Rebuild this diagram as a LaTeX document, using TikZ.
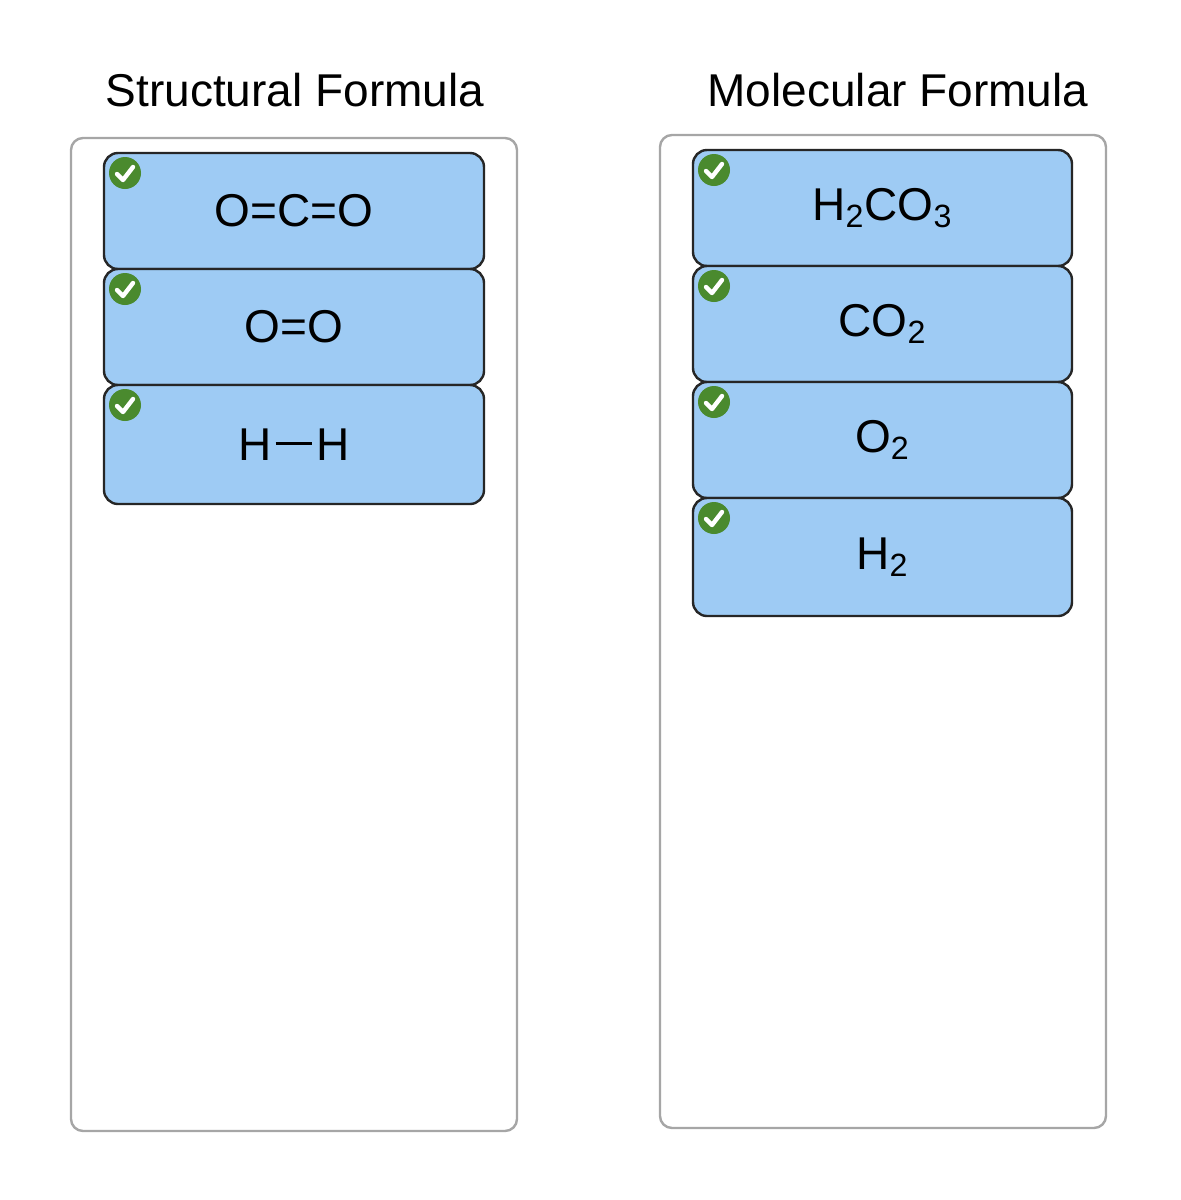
\documentclass[tikz,border=0pt]{standalone}
\usepackage{fontspec}
\setmainfont{Liberation Sans}
\definecolor{cardblue}{HTML}{9ECBF4}
\definecolor{okgreen}{HTML}{4A8A2E}
\tikzset{
 panel/.style={draw=gray!70, line width=1.2pt, rounded corners=6pt, fill=white},
 card/.style={draw=black!85, line width=1.2pt, rounded corners=7pt, fill=cardblue},
 lbl/.style={font=\fontsize{23}{26}\selectfont},
 ttl/.style={font=\fontsize{23}{26}\selectfont},
}
\newcommand{\mycheck}[2]{%
 \fill[okgreen] (#1,#2) circle (16);
 \draw[white, line width=2.2pt, line cap=round, line join=round] (#1-8,#2+1) -- (#1-2,#2+7) -- (#1+8,#2-6);}
\newcommand{\mycard}[6]{% name x1 y1 x2 y2 text
 \draw[card] (#2,#3) rectangle (#4,#5);
 \node[lbl] (#1) at ({(#2+#4)/2},{(#3+#5)/2}) {#6};
 \mycheck{#2+21}{#3+20}}
\begin{document}
\begin{tikzpicture}[x=0.5pt,y=-0.5pt]
\useasboundingbox (0,0) rectangle (1180,1200);
\node[ttl] (t1) at (295,90) {Structural Formula};
\node[ttl] (t2) at (898,90) {Molecular Formula};
\draw[panel] (71,138) rectangle (517,1131);
\draw[panel] (660,135) rectangle (1106,1128);
\mycard{a1}{104}{153}{484}{269}{O=C=O}
\mycard{a2}{104}{269}{484}{385}{O=O}
\mycard{a3}{104}{385}{484}{504}{H\kern2pt\rule[0.33em]{0.8em}{1.4pt}\kern2pt H}
\mycard{b1}{693}{150}{1072}{266}{H\textsubscript{2}CO\textsubscript{3}}
\mycard{b2}{693}{266}{1072}{382}{CO\textsubscript{2}}
\mycard{b3}{693}{382}{1072}{498}{O\textsubscript{2}}
\mycard{b4}{693}{498}{1072}{616}{H\textsubscript{2}}
\end{tikzpicture}
\end{document}
